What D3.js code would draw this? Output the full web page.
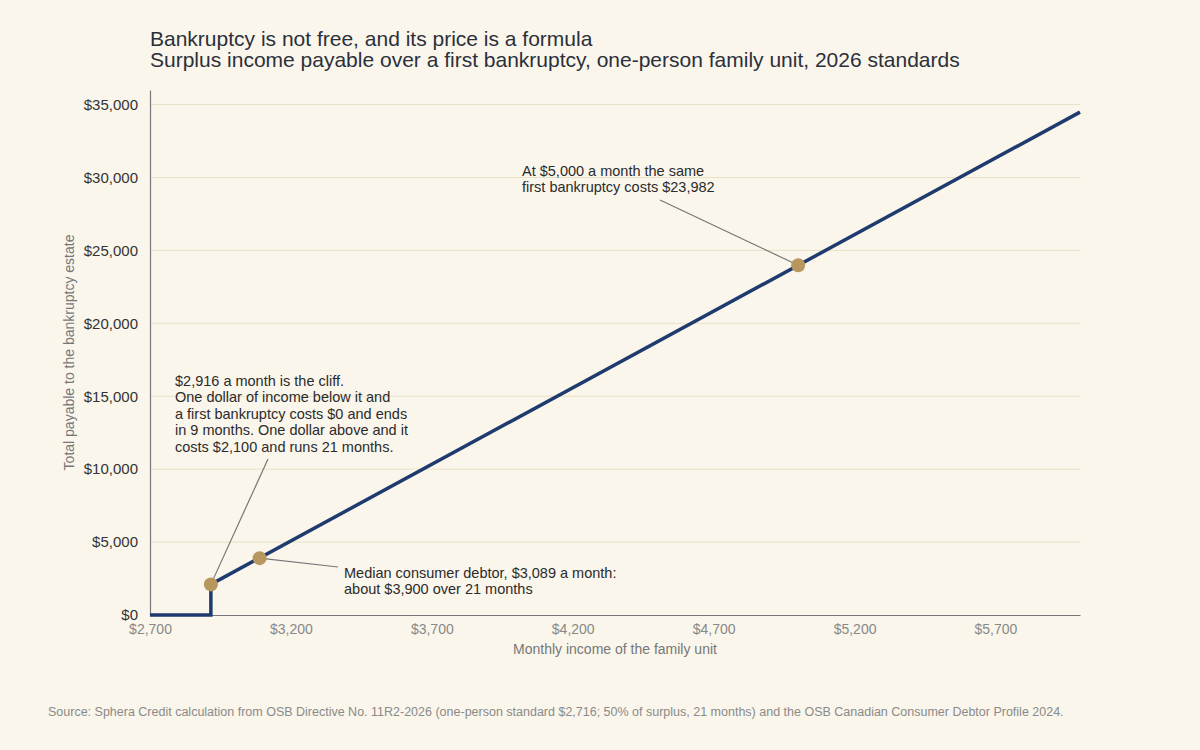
<!DOCTYPE html>
<html>
<head>
<meta charset="utf-8">
<script src="https://cdn.jsdelivr.net/npm/d3@7"></script>
<style>
  body { margin: 0; background: #faf6eb; }
  svg { display: block; font-family: "Liberation Sans", Arial, sans-serif; }
</style>
</head>
<body>
<div id="chart"></div>
<script>
// Payable curve (income per month, total payable)
const incomes = [2700, 2916, 2916, 6000];
const payable = [0, 0, 2100, 34482];

// Highlighted points
const markIncome = [2916, 3089, 5000];
const markPayable = [2100, 3900, 23982];

const xTicks = [2700, 3200, 3700, 4200, 4700, 5200, 5700];
const yTicks = [0, 5000, 10000, 15000, 20000, 25000, 30000, 35000];

const width = 1200;
const height = 750;
const margin = { top: 90, right: 120, bottom: 135, left: 150 };

const svg = d3.select('#chart')
  .append('svg')
  .attr('width', width)
  .attr('height', height);

svg.append('rect')
  .attr('width', width)
  .attr('height', height)
  .attr('fill', '#faf6eb');

const x = d3.scaleLinear()
  .domain([2700, 6000])
  .range([margin.left, width - margin.right]);

const y = d3.scaleLinear()
  .domain([0, 36000])
  .range([height - margin.bottom, margin.top]);

const money = d3.format('$,');

// Title
svg.append('text')
  .attr('x', 150).attr('y', 46)
  .attr('font-size', 21).attr('fill', '#2b303b')
  .text('Bankruptcy is not free, and its price is a formula');
svg.append('text')
  .attr('x', 150).attr('y', 67)
  .attr('font-size', 21).attr('fill', '#2b303b')
  .text('Surplus income payable over a first bankruptcy, one-person family unit, 2026 standards');

// Gridlines
svg.append('g')
  .selectAll('line')
  .data(yTicks.filter(d => d > 0))
  .join('line')
  .attr('x1', x(2700)).attr('x2', x(6000))
  .attr('y1', d => y(d)).attr('y2', d => y(d))
  .attr('stroke', '#e8e1c4').attr('stroke-width', 1);

// Axes
const yAxis = svg.append('g')
  .attr('transform', `translate(${margin.left},0)`)
  .call(d3.axisLeft(y).tickValues(yTicks).tickFormat(money).tickSize(0).tickPadding(12));
yAxis.select('.domain').attr('stroke', '#777').attr('stroke-width', 1.2);
yAxis.selectAll('text').attr('font-size', 15).attr('fill', '#333').attr('font-family', 'Liberation Sans, Arial, sans-serif');

const xAxis = svg.append('g')
  .attr('transform', `translate(0,${height - margin.bottom})`)
  .call(d3.axisBottom(x).tickValues(xTicks).tickFormat(money).tickSize(0).tickPadding(9));
xAxis.select('.domain').attr('stroke', '#777').attr('stroke-width', 1.2);
xAxis.selectAll('text').attr('font-size', 14).attr('fill', '#888').attr('font-family', 'Liberation Sans, Arial, sans-serif');

// Axis titles
svg.append('text')
  .attr('x', (x.range()[0] + x.range()[1]) / 2).attr('y', 654)
  .attr('text-anchor', 'middle')
  .attr('font-size', 14).attr('fill', '#777')
  .text('Monthly income of the family unit');
svg.append('text')
  .attr('transform', `translate(74,${(y.range()[0] + y.range()[1]) / 2}) rotate(-90)`)
  .attr('text-anchor', 'middle')
  .attr('font-size', 14).attr('fill', '#777')
  .text('Total payable to the bankruptcy estate');

// Line
const pts = incomes.map((d, i) => [d, payable[i]]);
svg.append('path')
  .datum(pts)
  .attr('fill', 'none')
  .attr('stroke', '#1f3a6e')
  .attr('stroke-width', 3.5)
  .attr('d', d3.line().x(d => x(d[0])).y(d => y(d[1])));

// Annotation connectors
const notes = [
  { i: 0, lines: ['$2,916 a month is the cliff.', 'One dollar of income below it and',
      'a first bankruptcy costs $0 and ends', 'in 9 months. One dollar above and it',
      'costs $2,100 and runs 21 months.'], tx: 175, ty: 386, lx: 268, ly: 459 },
  { i: 1, lines: ['Median consumer debtor, $3,089 a month:', 'about $3,900 over 21 months'],
    tx: 344, ty: 578, lx: 338, ly: 567 },
  { i: 2, lines: ['At $5,000 a month the same', 'first bankruptcy costs $23,982'],
    tx: 522, ty: 176, lx: 660, ly: 200 },
];

svg.append('g')
  .selectAll('line')
  .data(notes)
  .join('line')
  .attr('x1', d => x(markIncome[d.i])).attr('y1', d => y(markPayable[d.i]))
  .attr('x2', d => d.lx).attr('y2', d => d.ly)
  .attr('stroke', '#777').attr('stroke-width', 1.2);

// Dots
svg.append('g')
  .selectAll('circle')
  .data(markIncome)
  .join('circle')
  .attr('cx', d => x(d))
  .attr('cy', (d, i) => y(markPayable[i]))
  .attr('r', 7)
  .attr('fill', '#b8975f');

// Annotation text
notes.forEach(n => {
  const t = svg.append('text')
    .attr('x', n.tx).attr('y', n.ty)
    .attr('font-size', 14.5).attr('fill', '#2b2b2b');
  n.lines.forEach((l, k) => {
    t.append('tspan').attr('x', n.tx).attr('dy', k === 0 ? 0 : 16.4).text(l);
  });
});

// Source
svg.append('text')
  .attr('x', 48).attr('y', 716)
  .attr('font-size', 12.5).attr('fill', '#8a8a8a')
  .text('Source: Sphera Credit calculation from OSB Directive No. 11R2-2026 (one-person standard $2,716; 50% of surplus, 21 months) and the OSB Canadian Consumer Debtor Profile 2024.');
</script>
</body>
</html>
